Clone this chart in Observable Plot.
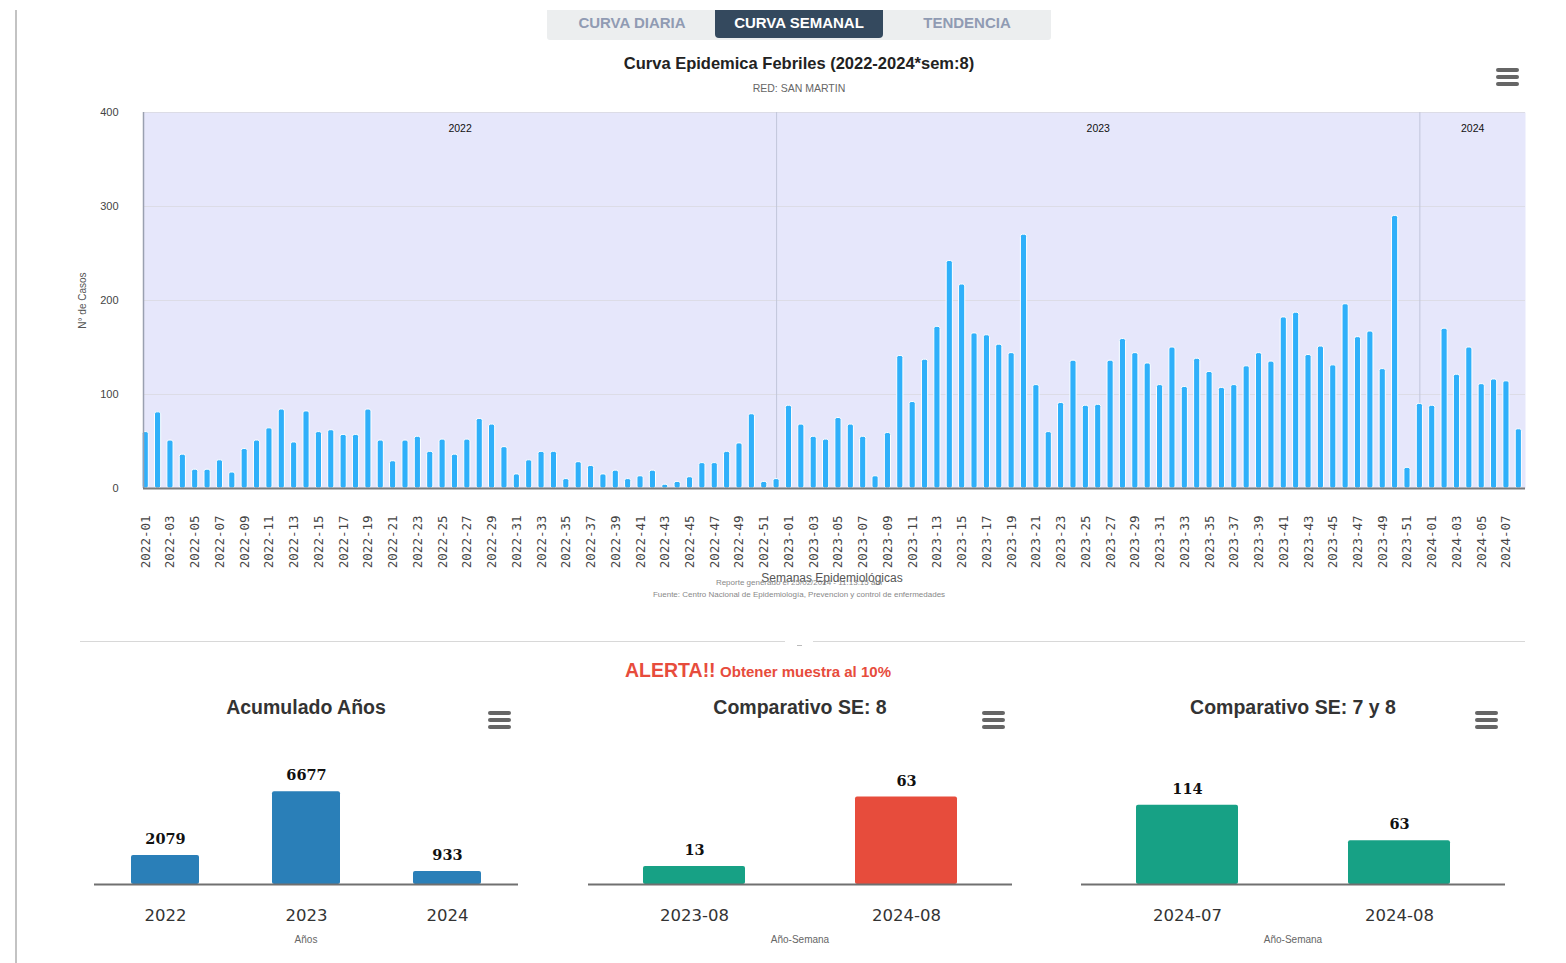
<!DOCTYPE html>
<html>
<head>
<meta charset="utf-8">
<script src="https://cdn.jsdelivr.net/npm/d3@7"></script>
<script src="https://cdn.jsdelivr.net/npm/@observablehq/plot@0.6"></script>
<style>
  body { margin: 0; background: #fff; font-family: "Liberation Sans", Arial, sans-serif; }
  #page { position: relative; width: 1566px; height: 963px; overflow: hidden; background: #fff; }
  .abs { position: absolute; }
  .center { text-align: center; white-space: nowrap; }
  .tabs { left: 547px; top: 10px; width: 504px; height: 30px; background: #eceeef; border-radius: 0 0 3px 3px; }
  .tab { position: absolute; top: 0; height: 28px; line-height: 25px; font-weight: bold; font-size: 15px; color: #909bb3; text-align: center; }
  .tab.active { background: #34495e; color: #fff; border-radius: 0 0 4px 4px; }
  .burger { width: 23px; height: 18px; }
  .burger span { position: absolute; left: 0; width: 23px; height: 3.5px; border-radius: 2px; background: #666; }
  #main text { font-family: "Liberation Sans", Arial, sans-serif; }
  #main g[aria-label="x-axis tick label"] text { font-family: "DejaVu Sans Mono", monospace; font-size: 12.5px; fill: #444; }
  #main g[aria-label="y-axis tick label"] text { font-size: 11px; fill: #444; }
  .small text { font-family: "DejaVu Sans", sans-serif; }
  .small g[aria-label="x-axis tick label"] text { font-size: 16.5px; fill: #333; }
  .small .dl text { font-family: "DejaVu Serif", serif; font-weight: bold; font-size: 14.5px; fill: #111; }
</style>
</head>
<body>
<div id="page"></div>
<script>
// ---------------- DATA ----------------
const years = ["2022", "2023", "2024"];
const cases2022 = [60,81,51,36,20,20,30,17,42,51,64,84,49,82,60,62,57,57,84,51,29,51,55,39,52,36,52,74,68,44,15,30,39,39,10,28,24,15,19,10,13,19,4,7,12,27,27,39,48,79,7,10];
const cases2023 = [88,68,55,52,75,68,55,13,59,141,92,137,172,242,217,165,163,153,144,270,110,60,91,136,88,89,136,159,144,133,110,150,108,138,124,107,110,130,144,135,182,187,142,151,131,196,161,167,127,290,22,90];
const cases2024 = [88,170,121,150,111,116,114,63];
const yTicks = [0, 100, 200, 300, 400];

const accLabels = ["2022", "2023", "2024"];
const accValues = [2079, 6677, 933];
const se8Labels = ["2023-08", "2024-08"];
const se8Values = [13, 63];
const se78Labels = ["2024-07", "2024-08"];
const se78Values = [114, 63];

const blue = "#2fb0fa", accBlue = "#2a7fb8", green = "#17a185", red = "#e74c3c";

// ---------------- BUILD ----------------
const page = document.getElementById("page");
function el(tag, cls, style, html) {
  const e = document.createElement(tag);
  if (cls) e.className = cls;
  Object.assign(e.style, style || {});
  if (html != null) e.innerHTML = html;
  page.appendChild(e);
  return e;
}
function burger(left, top) {
  const b = el("div", "abs burger", {left: left + "px", top: top + "px"});
  [0, 7, 14].forEach(t => { const s = document.createElement("span"); s.style.top = t + "px"; b.appendChild(s); });
}

// left border
el("div", "abs", {left: "15px", top: "10px", width: "2px", height: "953px", background: "#c3c3c3"});

// tabs
const tabs = el("div", "abs tabs");
[["CURVA DIARIA", 0, 170, false], ["CURVA SEMANAL", 168, 168, true], ["TENDENCIA", 336, 168, false]].forEach(([t, l, w, a]) => {
  const d = document.createElement("div");
  d.className = "tab" + (a ? " active" : "");
  d.style.left = l + "px"; d.style.width = w + "px";
  d.textContent = t;
  tabs.appendChild(d);
});

// title & subtitle
el("div", "abs center", {left: "0px", width: "1598px", top: "54px", fontSize: "16.5px", fontWeight: "bold", color: "#222"}, "Curva Epidemica Febriles (2022-2024*sem:8)");
el("div", "abs center", {left: "0px", width: "1598px", top: "82px", fontSize: "10.5px", color: "#666"}, "RED: SAN MARTIN");
burger(1496, 68);

// main data table
const series = [cases2022, cases2023, cases2024];
const data = [];
years.forEach((y, k) => series[k].forEach((v, j) => data.push({i: data.length, year: y, week: `${y}-${String(j + 1).padStart(2, "0")}`, v})));
const n = data.length;
const xDomain = [-0.18, n - 1 + 0.54];
const yearInfo = years.map(y => {
  const ds = data.filter(d => d.year === y);
  return {year: y, first: ds[0].i, last: ds[ds.length - 1].i};
});
const seps = yearInfo.slice(0, -1).map(d => d.last);
const yearLabels = yearInfo.map((d, k) => ({
  year: d.year,
  x: ((k === 0 ? xDomain[0] : yearInfo[k - 1].last) + (k === yearInfo.length - 1 ? xDomain[1] : d.last)) / 2
}));

const main = Plot.plot({
  width: 1566, height: 480,
  marginLeft: 143, marginRight: 41, marginTop: 12, marginBottom: 92,
  x: {type: "linear", domain: xDomain, axis: null},
  y: {domain: [0, 400], axis: null},
  marks: [
    Plot.frame({fill: "#e6e7fb", stroke: "none"}),
    Plot.ruleY(yTicks.slice(1), {stroke: "#dcdce6", strokeWidth: 1}),
    Plot.ruleX(seps, {stroke: "#c2c6da", strokeWidth: 1}),
    Plot.rectY(data, {x1: d => d.i - 0.25, x2: d => d.i + 0.25, y: "v", fill: blue, stroke: "white", strokeWidth: 1, rx: 2}),
    Plot.ruleX([xDomain[0]], {stroke: "#9aa0b0", strokeWidth: 1.5}),
    Plot.ruleY([0], {stroke: "#7a7a7a", strokeWidth: 2}),
    Plot.axisY({ticks: yTicks, tickSize: 0, tickPadding: 25, label: null}),
    Plot.axisX({ticks: data.filter(d => d.i % 2 === 0).map(d => d.i), tickFormat: i => data[i].week, tickRotate: -90, tickSize: 0, tickPadding: 27, label: null}),
    Plot.text(yearLabels, {x: "x", frameAnchor: "top", dy: 12, text: "year", fontSize: 10.5, fill: "#111"}),
    Plot.text(["N° de Casos"], {frameAnchor: "left", textAnchor: "middle", dx: -61, rotate: -90, fontSize: 10, fill: "#555"})
  ]
});
const mainWrap = el("div", "abs", {left: "0px", top: "100px"});
mainWrap.id = "main";
mainWrap.appendChild(main);

// captions below main chart
el("div", "abs center", {left: "0px", width: "1664px", top: "571px", fontSize: "12px", color: "#555"}, "Semanas Epidemiológicas");
el("div", "abs center", {left: "0px", width: "1598px", top: "578px", fontSize: "8px", color: "#888"}, "Reporte generado el 25/02/2024 - 11:13:15 am");
el("div", "abs center", {left: "0px", width: "1598px", top: "590px", fontSize: "8px", color: "#888"}, "Fuente: Centro Nacional de Epidemiología, Prevencion y control de enfermedades");

// separator
el("div", "abs", {left: "80px", top: "641px", width: "705px", height: "1px", background: "#d8d8d8"});
el("div", "abs", {left: "813px", top: "641px", width: "712px", height: "1px", background: "#d8d8d8"});
el("div", "abs", {left: "797px", top: "645px", width: "5px", height: "1px", background: "#bbb"});

// alert
el("div", "abs center", {left: "0px", width: "1516px", top: "659px", color: red, fontWeight: "bold"},
  '<span style="font-size:19.5px">ALERTA!!</span> <span style="font-size:15px">Obtener muestra al 10%</span>');

// small charts
function small({labels, values, colors, max, left, title, xTitle}) {
  const d = labels.map((l, k) => ({l, v: values[k], c: colors[k]}));
  const w = 464;
  const svg = Plot.plot({
    width: w, height: 220,
    marginLeft: 20, marginRight: 20, marginTop: 15, marginBottom: 66,
    x: {domain: labels, paddingInner: 0.52, paddingOuter: 0.26, axis: null},
    y: {domain: [0, max], axis: null},
    color: {type: "identity"},
    marks: [
      Plot.barY(d, {x: "l", y: "v", fill: "c", rx: 2}),
      Plot.ruleY([0], {stroke: "#707070", strokeWidth: 2}),
      Plot.text(d, {x: "l", y: "v", text: e => String(e.v), dy: -16, className: "dl"}),
      Plot.axisX({tickSize: 0, tickPadding: 25, label: null})
    ]
  });
  const wrap = el("div", "abs small", {left: left + "px", top: "730px"});
  wrap.appendChild(svg);
  const cx = left + w / 2;
  el("div", "abs center", {left: (cx - 200) + "px", width: "400px", top: "696px", fontSize: "19.5px", fontWeight: "bold", color: "#333"}, title);
  el("div", "abs center", {left: (cx - 100) + "px", width: "200px", top: "934px", fontSize: "10px", color: "#666"}, xTitle);
  burger(left + w - 50, 711);
}
small({labels: accLabels, values: accValues, colors: accLabels.map(() => accBlue), max: 10000, left: 74, title: "Acumulado Años", xTitle: "Años"});
small({labels: se8Labels, values: se8Values, colors: [green, red], max: 100, left: 568, title: "Comparativo SE: 8", xTitle: "Año-Semana"});
small({labels: se78Labels, values: se78Values, colors: [green, green], max: 200, left: 1061, title: "Comparativo SE: 7 y 8", xTitle: "Año-Semana"});
</script>
</body>
</html>
